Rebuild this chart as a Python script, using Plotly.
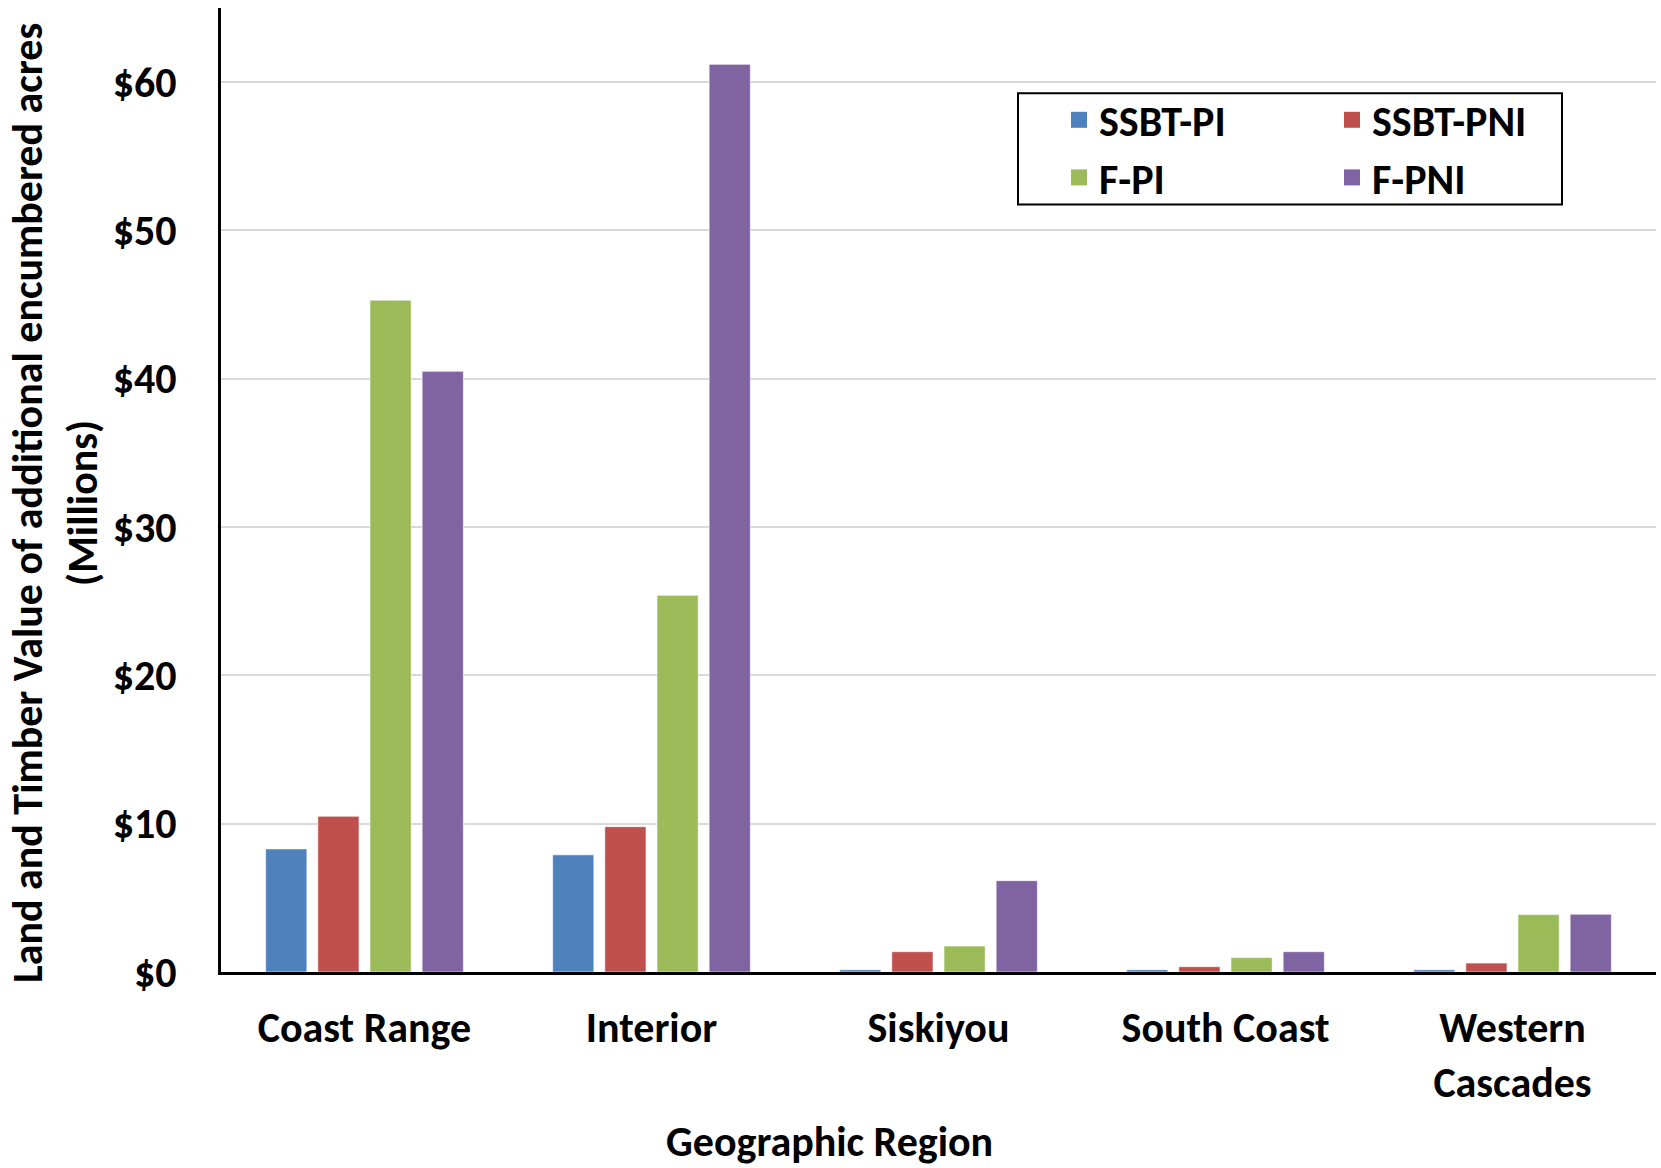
import plotly.graph_objects as go

regions = ["Coast Range", "Interior", "Siskiyou", "South Coast", "Western<br>Cascades"]
ssbt_pi = [8.3, 7.9, 0.15, 0.15, 0.15]
ssbt_pni = [10.5, 9.8, 1.37, 0.36, 0.6]
f_pi = [45.3, 25.4, 1.75, 0.97, 3.87]
f_pni = [40.5, 61.2, 6.16, 1.37, 3.9]

FONT = "Calibri, Carlito, Lato, sans-serif"
FS = 42
colors = ["#4F81BD", "#C0504D", "#9BBB59", "#8064A2"]

fig = go.Figure()
series = [("SSBT-PI", ssbt_pi, "legend"), ("SSBT-PNI", ssbt_pni, "legend2"),
          ("F-PI", f_pi, "legend"), ("F-PNI", f_pni, "legend2")]
for (name, vals, lg), c in zip(series, colors):
    fig.add_trace(go.Bar(x=regions, y=vals, name=name, showlegend=False,
                         marker=dict(color=c, line=dict(color="rgba(255,255,255,0.6)", width=1))))
# legend entries (square swatches)
for (name, vals, lg), c in zip(series, colors):
    fig.add_trace(go.Scatter(x=[None], y=[None], mode="markers", name=name, legend=lg,
                             marker=dict(symbol="square", size=22, color=c)))

x0p, x1p = 221, 1656
y0p, y1p = 8, 972
W = x1p - x0p
H = y1p - y0p
def px(x): return (x - x0p) / W
def py(y): return (y1p - y) / H

fig.update_layout(
    width=1661, height=1168,
    margin=dict(l=x0p, r=1661 - x1p, t=y0p, b=1168 - y1p),
    plot_bgcolor="white", paper_bgcolor="white",
    font=dict(family=FONT, size=FS, color="black"),
    barmode="group", bargap=0.273, bargroupgap=0.21,
    legend=dict(x=px(1059), y=py(86), xanchor="left", yanchor="top",
                bgcolor="rgba(0,0,0,0)", itemsizing="trace", tracegroupgap=0,
                font=dict(size=FS, family=FONT, weight="bold"),
                traceorder="normal"),
    legend2=dict(x=px(1332), y=py(86), xanchor="left", yanchor="top",
                 bgcolor="rgba(0,0,0,0)", itemsizing="trace", tracegroupgap=0,
                 font=dict(size=FS, family=FONT, weight="bold"),
                 traceorder="normal"),
    shapes=[dict(type="rect", xref="paper", yref="paper",
                 x0=px(1018), x1=px(1562), y0=py(204.4), y1=py(93.2),
                 line=dict(color="black", width=2))],
    annotations=[
        dict(text="<b>Geographic Region</b>", xref="paper", yref="paper",
             x=px(829), y=py(1141), showarrow=False,
             font=dict(size=FS, family=FONT), xanchor="center", yanchor="middle"),
        dict(text="<b>Land and Timber Value of additional encumbered acres<br>(Millions)</b>",
             xref="paper", yref="paper", x=px(55), y=py(503), showarrow=False,
             textangle=-90, font=dict(size=FS, family=FONT),
             xanchor="center", yanchor="middle"),
    ],
)

fig.update_xaxes(showline=True, linecolor="black", linewidth=3, ticks="",
                 tickfont=dict(size=FS, family=FONT), ticklabelstandoff=17,
                 tickvals=regions, ticktext=["<b>" + r + "</b>" for r in regions])
fig.update_yaxes(range=[0, 65], dtick=10, tickprefix="$", showline=True, linecolor="black",
                 linewidth=3, showgrid=True, gridcolor="#d9d9d9", gridwidth=1.5,
                 zeroline=False, ticks="", ticklabelstandoff=33,
                 tickfont=dict(size=FS, family=FONT, weight="bold"))

fig.write_html("out.html")
